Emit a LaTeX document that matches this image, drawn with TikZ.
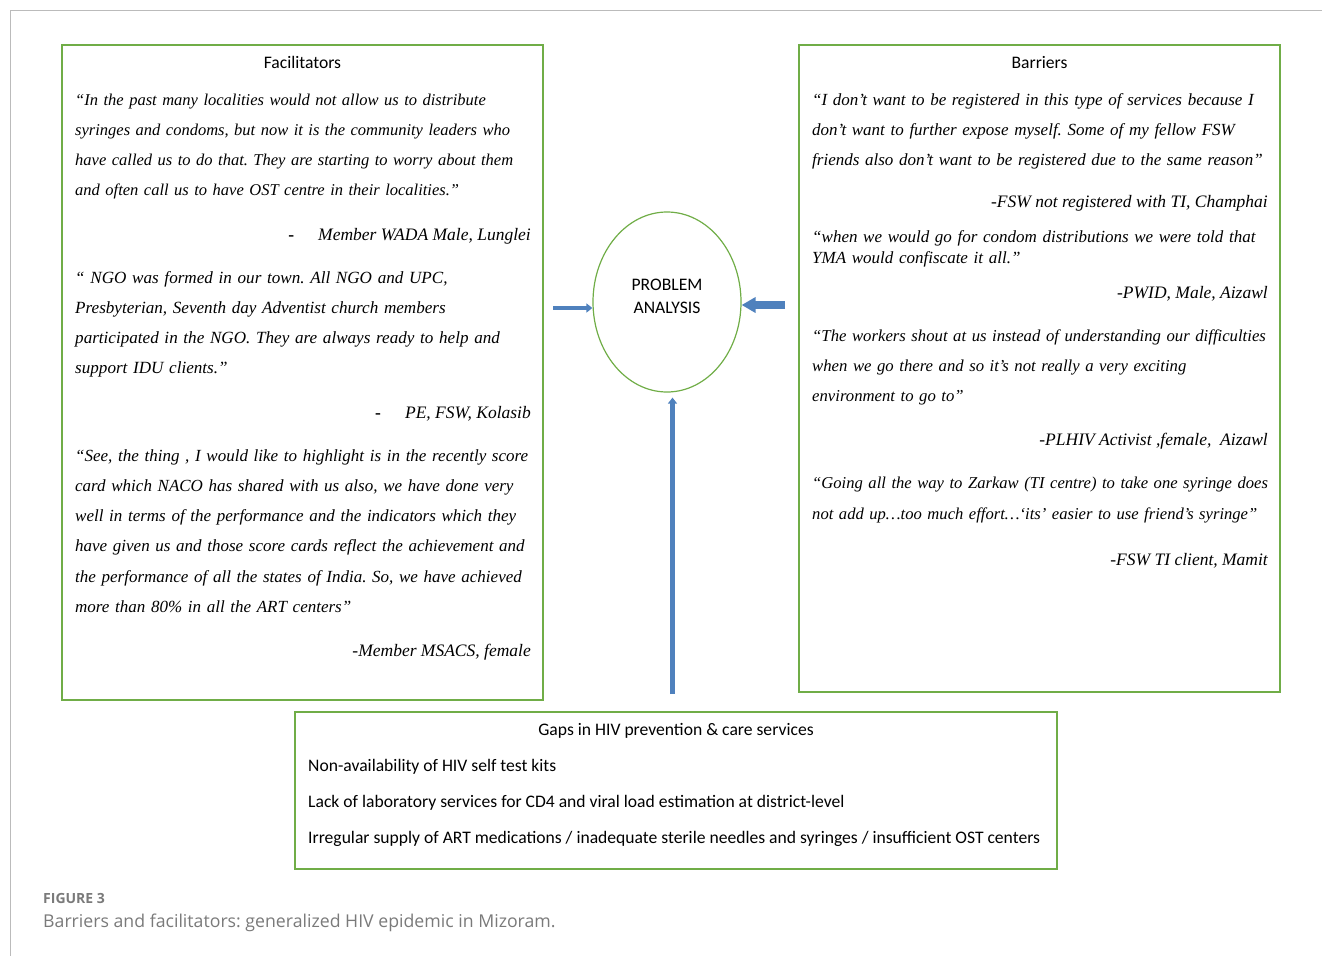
\documentclass[tikz,border=0pt]{standalone}
\usepackage{fontspec}
\setmainfont{Liberation Serif}
\newfontfamily\calibri{Carlito}
\newfontfamily\capfont{Open Sans}
\usetikzlibrary{arrows.meta,shapes.geometric}
\definecolor{boxgreen}{HTML}{70AD47}
\definecolor{arrowblue}{HTML}{4F81BD}
\definecolor{framegray}{HTML}{BBBBBB}
\definecolor{capgray}{HTML}{7A7A7A}
\tikzset{
  box/.style={draw=boxgreen,line width=1.5pt,rectangle,inner sep=0pt},
  head/.style={font=\calibri\fontsize{17.6}{20}\selectfont,anchor=base,inner sep=0pt},
  quote/.style={font=\fontsize{16.7}{30.3}\selectfont\itshape,anchor=base west,inner sep=0pt,text width=470pt,align=left},
  who/.style={font=\fontsize{17.5}{20}\selectfont\itshape,anchor=base east,inner sep=0pt},
  gap/.style={font=\calibri\fontsize{17.6}{20}\selectfont,anchor=base west,inner sep=0pt},
  blockarrow/.style={arrowblue,line width=#1}
}
\frenchspacing
\begin{document}
\begin{tikzpicture}[x=1pt,y=-1pt]
  \useasboundingbox (0,0) rectangle (1322,956);
  % page frame
  \draw[framegray,line width=1pt] (1322,10) -- (10,10) -- (10,956);
  % the three boxes
  \node[box,minimum width=481pt,minimum height=655pt] (fac) at (302.5,372.5) {};
  \node[box,minimum width=481pt,minimum height=647pt] (bar) at (1039.5,368.5) {};
  \node[box,minimum width=762pt,minimum height=157pt] (gaps) at (676,790.5) {};
  % centre ellipse
  \node[ellipse,draw=boxgreen,line width=1.2pt,minimum width=148pt,minimum height=180pt] (pa) at (667,302) {};
  \node[font=\calibri\fontsize{17.6}{23}\selectfont,align=center,inner sep=0pt] (pat) at (667,296) {PROBLEM\\ANALYSIS};
  % facilitators
  \node[head] (fach) at (302.5,68) {Facilitators};
  \node[quote,font=\fontsize{16.5}{30.3}\selectfont\itshape] (fq1) at (75,105) {``In the past many localities would not allow us to distribute\\
    syringes and condoms, but now it is the community leaders who\\
    have called us to do that. They are starting to worry about them\\
    and often call us to have OST centre in their localities.''};
  \node[who] (fw1) at (531,240) {{\upshape\bfseries -}\hspace{24pt}Member WADA Male, Lunglei};
  \node[quote,font=\fontsize{17.1}{30.3}\selectfont\itshape] (fq2) at (75,283) {`` NGO was formed in our town. All NGO and UPC,\\
    Presbyterian, Seventh day Adventist church members\\
    participated in the NGO. They are always ready to help and\\
    support IDU clients.''};
  \node[who] (fw2) at (531,418) {{\upshape\bfseries -}\hspace{24pt}PE, FSW, Kolasib};
  \node[quote,font=\fontsize{17}{30.3}\selectfont\itshape] (fq3) at (75,461) {``See, the thing , I would like to highlight is in the recently score\\
    card which NACO has shared with us also, we have done very\\
    well in terms of the performance and the indicators which they\\
    have given us and those score cards reflect the achievement and\\
    the performance of all the states of India. So, we have achieved\\
    more than 80\% in all the ART centers''};
  \node[who] (fw3) at (531,656) {-Member MSACS, female};
  % barriers
  \node[head] (barh) at (1039.5,68) {Barriers};
  \node[quote,font=\fontsize{17}{30.3}\selectfont\itshape] (bq1) at (812,105) {``I don't want to be registered in this type of services because I\\
    don't want to further expose myself. Some of my fellow FSW\\
    friends also don't want to be registered due to the same reason''};
  \node[who] (bw1) at (1268,207) {-FSW not registered with TI, Champhai};
  \node[quote,font=\fontsize{17}{21}\selectfont\itshape] (bq2) at (812,242) {``when we would go for condom distributions we were told that\\
    YMA would confiscate it all.''};
  \node[who] (bw2) at (1268,298) {-PWID, Male, Aizawl};
  \node[quote] (bq3) at (812,341) {``The workers shout at us instead of understanding our difficulties\\
    when we go there and so it's not really a very exciting\\
    environment to go to''};
  \node[who] (bw3) at (1268,445) {-PLHIV Activist ,female,\ \ Aizawl};
  \node[quote,font=\fontsize{16.6}{31}\selectfont\itshape] (bq4) at (812,488) {``Going all the way to Zarkaw (TI centre) to take one syringe does\\
    not add up\ldots too much effort\ldots `its' easier to use friend's syringe''};
  \node[who] (bw4) at (1268,565) {-FSW TI client, Mamit};
  % gaps
  \node[head] (gapsh) at (676,735) {Gaps in HIV prevention \& care services};
  \node[gap] (g1) at (308,771) {Non-availability of HIV self test kits};
  \node[gap] (g2) at (308,807) {Lack of laboratory services for CD4 and viral load estimation at district-level};
  \node[gap] (g3) at (308,843) {Irregular supply of ART medications / inadequate sterile needles and syringes / insufficient OST centers};
  % block arrows into the ellipse
  \coordinate (lft) at (553,308);
  \coordinate (rgt) at (785,305);
  \coordinate (bot) at (672.5,694);
  \draw[blockarrow=4pt,-{Triangle[width=9pt,length=6pt]}] (lft) -- (lft -| pa.west);
  \draw[blockarrow=8pt,-{Triangle[width=15pt,length=14pt]}] (rgt) -- (rgt -| pa.east);
  \draw[blockarrow=4.5pt,-{Triangle[width=9pt,length=6pt]}] (bot) -- ([yshift=-5pt]bot |- pa.south);
  % caption
  \node[font=\capfont\bfseries\fontsize{14}{16}\selectfont,text=capgray,anchor=base west,inner sep=0pt] (capa) at (43,903) {FIGURE 3};
  \node[font=\capfont\fontsize{17.7}{22}\selectfont,text=capgray,anchor=base west,inner sep=0pt] (capb) at (43,927) {Barriers and facilitators: generalized HIV epidemic in Mizoram.};
\end{tikzpicture}
\end{document}
